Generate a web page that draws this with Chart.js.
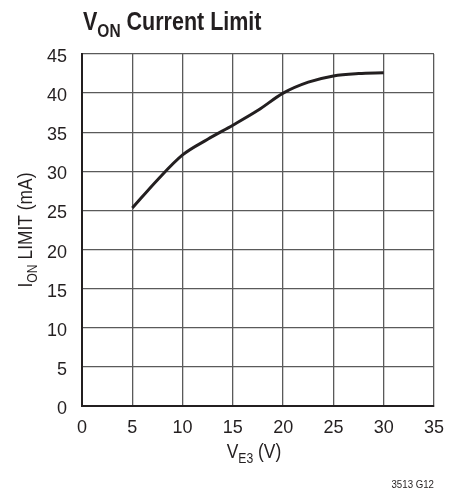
<!DOCTYPE html>
<html><head><meta charset="utf-8">
<script src="https://cdn.jsdelivr.net/npm/chart.js@4/dist/chart.umd.min.js"></script>
<style>html,body{margin:0;padding:0;background:#fff}#wrap{width:456px;height:492px;position:relative}</style>
</head><body><div id="wrap"><canvas id="c" width="456" height="492"></canvas></div>
<script>
const xValues = [5, 7.5, 10, 12.5, 15, 17.5, 20, 22.5, 25, 27.5, 30];
const ionLimit = [25.3, 28.9, 32.1, 34.1, 35.9, 37.8, 40.0, 41.4, 42.2, 42.5, 42.6];
const xTicks = [0, 5, 10, 15, 20, 25, 30, 35];
const yTicks = [0, 5, 10, 15, 20, 25, 30, 35, 40, 45];

const FONT = '"Liberation Sans Narrow", "Liberation Sans", Arial, sans-serif';

// draws runs of text (with optional subscripts), horizontally compressed by sx
function drawSub(ctx, parts, x, y, align, sx) {
  let w = 0;
  const sizes = parts.map(p => { ctx.font = p[2]; const m = ctx.measureText(p[0]).width; w += m; return m; });
  ctx.save();
  ctx.translate(x, y);
  ctx.scale(sx, 1);
  let cx = align === 'center' ? -w / 2 : (align === 'right' ? -w : 0);
  ctx.textAlign = 'left';
  parts.forEach((p, i) => {
    ctx.font = p[2];
    ctx.fillText(p[0], cx, p[1] ? p[3] : 0);
    cx += sizes[i];
  });
  ctx.restore();
}

const textPlugin = {
  id: 'texts',
  afterDraw(chart) {
    const ctx = chart.ctx;
    ctx.save();
    ctx.fillStyle = '#231f20';
    ctx.textBaseline = 'alphabetic';
    const tb = 'bold 25px ' + FONT, ts = 'bold 18px ' + FONT;
    drawSub(ctx, [['V', false, tb], ['ON', true, ts, 7], [' Current Limit', false, tb]], 83, 30, 'left', 0.86);
    const n = '20px ' + FONT, s = '14px ' + FONT;
    drawSub(ctx, [['V', false, n], ['E3', true, s, 5], [' (V)', false, n]], 254, 458, 'center', 0.87);
    ctx.save();
    ctx.translate(32, 230);
    ctx.rotate(-Math.PI / 2);
    drawSub(ctx, [['I', false, n], ['ON', true, s, 5], [' LIMIT (mA)', false, n]], 0, 0, 'center', 0.87);
    ctx.restore();
    drawSub(ctx, [['3513 G12', false, '11px ' + FONT]], 434, 488, 'right', 0.88);
    ctx.restore();
  }
};

new Chart(document.getElementById('c'), {
  type: 'scatter',
  data: {
    datasets: [{
      data: xValues.map((x, i) => ({ x: x, y: ionLimit[i] })),
      showLine: true,
      borderColor: '#231f20',
      borderWidth: 3,
      pointRadius: 0,
      cubicInterpolationMode: 'monotone',
      fill: false
    }]
  },
  options: {
    responsive: false,
    animation: false,
    devicePixelRatio: 1,
    layout: { padding: { left: 0, top: 54, right: 22, bottom: 0 } },
    plugins: { legend: { display: false }, tooltip: { enabled: false } },
    scales: {
      x: {
        type: 'linear', min: 0, max: 35,
        afterBuildTicks: sc => { sc.ticks = xTicks.map(v => ({ value: v })); },
        afterFit: sc => { sc.height = 86; },
        grid: { color: '#5a5a5a', lineWidth: 1.3, drawTicks: false },
        border: { color: '#231f20', width: 2 },
        ticks: { padding: 11, color: '#231f20', font: { family: FONT, size: 18 }, maxRotation: 0 }
      },
      y: {
        type: 'linear', min: 0, max: 45,
        afterBuildTicks: sc => { sc.ticks = yTicks.map(v => ({ value: v })); },
        afterFit: sc => { sc.width = 82; },
        grid: { color: '#5a5a5a', lineWidth: 1.3, drawTicks: false },
        border: { color: '#231f20', width: 2 },
        ticks: { padding: 15, labelOffset: 3, color: '#231f20', font: { family: FONT, size: 18 } }
      }
    }
  },
  plugins: [textPlugin]
});
</script></body></html>
